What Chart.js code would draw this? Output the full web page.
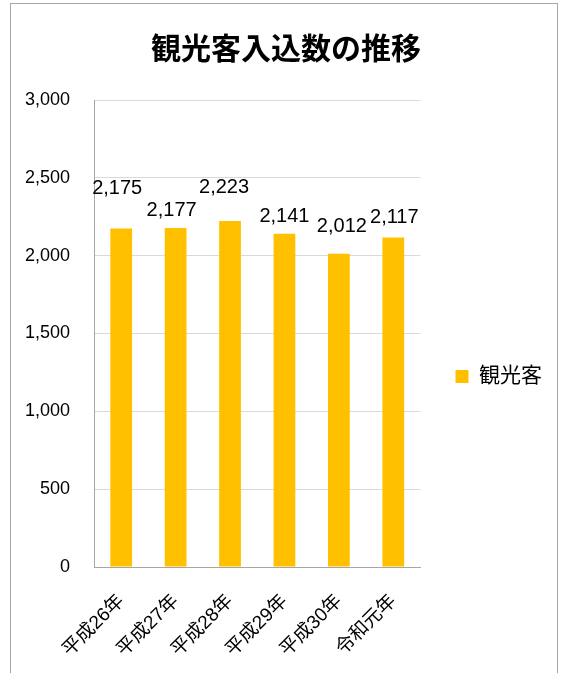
<!DOCTYPE html>
<html>
<head>
    <title>観光客入込数の推移</title>
    <script src="https://cdn.jsdelivr.net/npm/chart.js"></script>
    <style>
        body { margin: 0; background: #fff; }
        canvas { display: block; }
    </style>
</head>
<body>
    <canvas id="myChart" width="562" height="673"></canvas>
    <script>
const years = ['平成26年', '平成27年', '平成28年', '平成29年', '平成30年', '令和元年'];
const visitors = [2175, 2177, 2223, 2141, 2012, 2117];
const yTicks = [0, 500, 1000, 1500, 2000, 2500, 3000];

const FONT = "'Liberation Sans', 'Noto Sans CJK JP', sans-serif";

// Excel places the value labels a bit unevenly, nudge each one
const labelNudge = [[-4, -40], [-4, -18], [-6, -33], [0, -17], [3, -27], [1, -20]];

const frame = {
    id: 'frame',
    beforeDraw(chart) {
        const c = chart.ctx;
        c.save();
        c.fillStyle = '#fff';
        c.fillRect(0, 0, chart.width, chart.height);
        c.strokeStyle = '#a6a6a6';
        c.lineWidth = 1;
        c.strokeRect(10.5, 3.5, 547, 700);
        c.restore();
    },
    afterLayout(chart) {
        // legend sits a bit lower than the plot's middle in the original
        chart.legend.top += 40;
        chart.legend.bottom += 40;
    }
};

const valueLabels = {
    id: 'valueLabels',
    afterDatasetsDraw(chart) {
        const c = chart.ctx;
        const meta = chart.getDatasetMeta(0);
        c.save();
        c.font = '20px ' + FONT;
        c.fillStyle = '#000';
        c.textAlign = 'center';
        c.textBaseline = 'middle';
        meta.data.forEach((bar, i) => {
            const v = chart.data.datasets[0].data[i];
            const [dx, dy] = labelNudge[i];
            c.fillText(v.toLocaleString('en-US'), bar.x + dx, bar.y + dy);
        });
        c.restore();
    }
};

const ctx = document.getElementById('myChart').getContext('2d');

new Chart(ctx, {
    type: 'bar',
    data: {
        labels: years,
        datasets: [{
            label: '観光客',
            data: visitors,
            backgroundColor: '#FFC000',
            borderWidth: 0,
            barPercentage: 0.4,
            categoryPercentage: 1
        }]
    },
    options: {
        responsive: false,
        animation: false,
        layout: { padding: { left: 20, right: 10, top: 0, bottom: 0 } },
        plugins: {
            title: {
                display: true,
                text: '観光客入込数の推移',
                color: '#000',
                font: { family: FONT, size: 30, weight: 'bold' },
                padding: { top: 33, bottom: 31 }
            },
            legend: {
                position: 'right',
                labels: {
                    color: '#000',
                    font: { family: FONT, size: 21 },
                    boxWidth: 13,
                    boxHeight: 13,
                    padding: 35
                }
            },
            tooltip: { enabled: false }
        },
        scales: {
            x: {
                grid: { drawOnChartArea: false, drawTicks: false },
                border: { display: true, color: '#a6a6a6' },
                ticks: {
                    color: '#000',
                    font: { family: FONT, size: 19 },
                    minRotation: 45,
                    maxRotation: 45,
                    padding: 23
                },
                afterFit: (scale) => { scale.height = 106; }
            },
            y: {
                min: 0,
                max: 3000,
                grid: { color: '#d9d9d9', drawTicks: false },
                border: { display: true, color: '#a6a6a6' },
                afterBuildTicks: (scale) => { scale.ticks = yTicks.map(v => ({ value: v })); },
                ticks: {
                    color: '#000',
                    font: { family: FONT, size: 18 },
                    padding: 24,
                    callback: (v) => v.toLocaleString('en-US')
                },
                afterFit: (scale) => { scale.width = 74; }
            }
        }
    },
    plugins: [frame, valueLabels]
});
    </script>
</body>
</html>
